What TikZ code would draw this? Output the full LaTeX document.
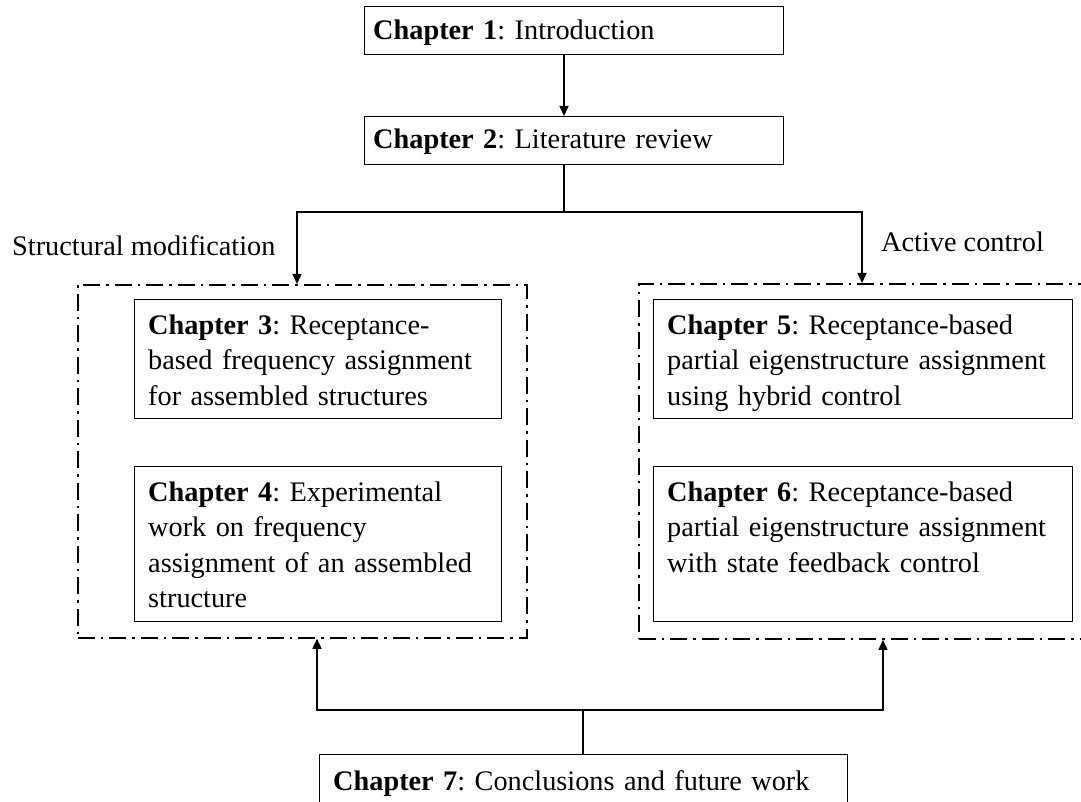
\documentclass[tikz,border=0pt]{standalone}
\usepackage{fontspec}
\setmainfont{Liberation Serif}
\usetikzlibrary{arrows.meta}
\begin{document}
\frenchspacing
\begin{tikzpicture}[x=1pt,y=-1pt,
  chbox/.style={draw=black, line width=1.1pt, inner sep=0pt, anchor=north west},
  chtext/.style={inner sep=0pt, anchor=base west, align=left,
     font=\fontsize{28.3}{35.5}\selectfont},
  grp/.style={draw=black, line width=1.8pt, inner sep=0pt, anchor=north west,
     dash pattern=on 17pt off 6pt on 2.5pt off 6pt},
  conn/.style={line width=1.6pt},
  arr/.style={line width=1.6pt, -{Triangle[length=10pt,width=9pt]}},
  lbl/.style={inner sep=0pt, anchor=base west, font=\fontsize{28.3}{32}\selectfont}]
\useasboundingbox (0,0) rectangle (1081,802);
\clip (0,0) rectangle (1081,802);

% chapter boxes
\node[chbox, minimum width=419pt, minimum height=48pt] (c1) at (364,6) {};
\node[chtext, text width=405pt] (t1) at (373,40) {\textbf{Chapter 1}: Introduction};
\node[chbox, minimum width=419pt, minimum height=48pt] (c2) at (364,116) {};
\node[chtext, text width=405pt] (t2) at (373,149) {\textbf{Chapter 2}: Literature review};

% groups
\node[grp, minimum width=449pt, minimum height=353pt] (gL) at (77,284) {};
\node[grp, minimum width=460pt, minimum height=355pt] (gR) at (638,283) {};

\node[chbox, minimum width=367pt, minimum height=119pt] (c3) at (134,299) {};
\node[chtext, text width=350pt] (t3) at (148,334)
  {\textbf{Chapter 3}: Receptance-\\based frequency assignment\\for assembled structures};
\node[chbox, minimum width=367pt, minimum height=155pt] (c4) at (134,466) {};
\node[chtext, text width=350pt] (t4) at (148,501)
  {\textbf{Chapter 4}: Experimental\\work on frequency\\assignment of an assembled\\structure};
\node[chbox, minimum width=419pt, minimum height=119pt] (c5) at (653,299) {};
\node[chtext, text width=405pt] (t5) at (667,334)
  {\textbf{Chapter 5}: Receptance-based\\partial eigenstructure assignment\\using hybrid control};
\node[chbox, minimum width=419pt, minimum height=155pt] (c6) at (653,466) {};
\node[chtext, text width=405pt] (t6) at (667,501)
  {\textbf{Chapter 6}: Receptance-based\\partial eigenstructure assignment\\with state feedback control};
\node[chbox, minimum width=528pt, minimum height=54pt] (c7) at (319,754) {};
\node[chtext, text width=515pt] (t7) at (333,790) {\textbf{Chapter 7}: Conclusions and future work};

% labels
\node[lbl] (lsm) at (12,256) {Structural modification};
\node[lbl] (lac) at (881,252) {Active control};

% connectors
\coordinate (mx) at (564,0);
\draw[arr] (c1.south -| mx) -- (c2.north -| mx);
\coordinate (split) at (564,212);
\coordinate (aL) at (297,0);
\coordinate (aR) at (862,0);
\draw[conn] (c2.south -| split) -- (split);
\draw[arr] (split) -| (aL |- gL.north);
\draw[arr] (split) -| (aR |- gR.north);

\coordinate (join) at (583,710);
\coordinate (bL) at (317,0);
\coordinate (bR) at (883,0);
\draw[conn] (c7.north -| join) -- (join);
\draw[arr] (join) -| (bL |- gL.south);
\draw[arr] (join) -| (bR |- gR.south);
\end{tikzpicture}
\end{document}
